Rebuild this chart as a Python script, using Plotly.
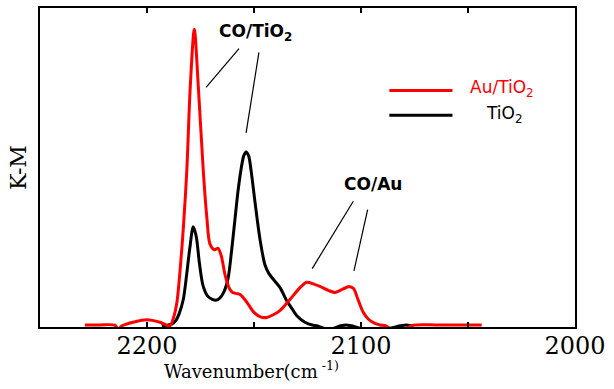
import plotly.graph_objects as go

# ---- data (wavenumber in cm^-1, K-M intensity in arbitrary units) ----
wn_au_tio2 = [2229.0, 2222.0, 2215.0, 2213.5, 2211.7, 2206.0, 2200.0, 2194.0, 2189.3,
              2187.5, 2186.0, 2184.5, 2183.0, 2181.4, 2179.8, 2177.9, 2176.0, 2173.7,
              2172.0, 2170.6, 2168.5, 2166.8, 2165.3, 2163.5, 2161.5, 2160.0, 2158.0,
              2156.5, 2154.5, 2152.5, 2150.0, 2147.0, 2144.0, 2141.0, 2137.9, 2133.0,
              2128.5, 2125.4, 2122.0, 2119.2, 2115.0, 2112.1, 2108.5, 2105.6, 2103.5,
              2101.5, 2099.1, 2096.5, 2093.5, 2091.1, 2088.3, 2086.0, 2080.0, 2075.6,
              2065.0, 2055.0, 2043.6]
km_au_tio2 = [0.003, 0.003, 0.002, -0.012, 0.0, 0.013, 0.02, 0.012, 0.0,
              0.03, 0.08, 0.19, 0.33, 0.52, 0.80, 0.995, 0.80, 0.52,
              0.36, 0.275, 0.255, 0.26, 0.235, 0.17, 0.125, 0.112, 0.108,
              0.105, 0.09, 0.07, 0.045, 0.03, 0.028, 0.037, 0.051, 0.09,
              0.128, 0.146, 0.14, 0.132, 0.118, 0.112, 0.123, 0.132, 0.125,
              0.09, 0.047, 0.022, 0.008, 0.003, 0.0, -0.012, -0.012, 0.002,
              0.003, 0.003, 0.003]

wn_tio2 = [2193.1, 2190.0, 2188.3, 2186.5, 2185.0, 2183.0, 2181.5, 2180.0, 2178.4,
           2177.0, 2175.5, 2173.8, 2171.5, 2169.5, 2167.8, 2166.0, 2164.0, 2162.1,
           2160.5, 2158.9, 2157.5, 2156.1, 2154.8, 2153.7, 2152.5, 2151.4, 2149.5,
           2147.2, 2144.9, 2143.0, 2141.1, 2137.9, 2134.7, 2132.0, 2130.0, 2126.2,
           2122.4, 2120.6, 2115.0, 2109.5, 2107.0, 2104.4, 2098.0, 2090.0, 2081.5,
           2079.0, 2076.4]
km_tio2 = [0.0, 0.003, 0.006, 0.018, 0.04, 0.09, 0.17, 0.26, 0.332,
           0.30, 0.21, 0.134, 0.098, 0.089, 0.086, 0.093, 0.115, 0.16,
           0.25, 0.357, 0.45, 0.523, 0.57, 0.583, 0.57, 0.523, 0.413,
           0.29, 0.205, 0.175, 0.157, 0.129, 0.084, 0.055, 0.034, 0.012,
           0.002, 0.0, -0.012, 0.0, 0.003, 0.0, -0.012, -0.012, 0.0,
           0.003, 0.0]

tick_vals = [2200, 2150, 2100, 2050, 2000]
tick_text = ["2200", "", "2100", "", "2000"]

series_names = ["Au/TiO<sub>2</sub>", "TiO<sub>2</sub>"]
series_colors = ["#ff0000", "#000000"]

fig = go.Figure()
fig.add_trace(go.Scatter(x=wn_tio2, y=km_tio2, mode="lines", name=series_names[1],
                         line=dict(color=series_colors[1], width=3, shape="spline", smoothing=0.8),
                         showlegend=False))
fig.add_trace(go.Scatter(x=wn_au_tio2, y=km_au_tio2, mode="lines", name=series_names[0],
                         line=dict(color=series_colors[0], width=3, shape="spline", smoothing=0.8),
                         showlegend=False))

serif = "DejaVu Serif"
sans = "DejaVu Sans"

fig.update_layout(
    width=614, height=389,
    margin=dict(l=40, r=39, t=6, b=62),
    paper_bgcolor="white", plot_bgcolor="white",
    xaxis=dict(range=[2250, 2000], tickvals=tick_vals, ticktext=tick_text,
               ticks="inside", ticklen=5, tickwidth=1.5, tickcolor="black",
               showline=True, linecolor="black", linewidth=1.5, mirror="ticks",
               showgrid=False, zeroline=False, ticklabelstandoff=-4,
               tickfont=dict(family=serif, size=24, color="black")),
    yaxis=dict(range=[-0.004, 1.066], showticklabels=False, ticks="",
               showline=True, linecolor="black", linewidth=1.5, mirror=True,
               showgrid=False, zeroline=False,
               title=dict(text="K-M", standoff=6,
                          font=dict(family=serif, size=22, color="black"))),
)

# x axis title (offset to the left as in the original)
fig.add_annotation(x=0.396, y=-0.134, xref="paper", yref="paper",
                   text="Wavenumber(cm<sup> -1)</sup>", showarrow=False,
                   xanchor="center", yanchor="middle",
                   font=dict(family=serif, size=18, color="black"))

# annotations (labels with leader lines)
fig.add_annotation(x=2149.5, y=0.985, xref="x", yref="y", text="<b>CO/TiO<sub>2</sub></b>",
                   showarrow=False, font=dict(family=sans, size=17, color="black"))
fig.add_annotation(x=2094.2, y=0.475, xref="x", yref="y", text="<b>CO/Au</b>",
                   showarrow=False, font=dict(family=sans, size=17, color="black"))
leaders = [((2157.0, 0.93), (2172.4, 0.80)),
           ((2147.7, 0.917), (2153.7, 0.647)),
           ((2103.6, 0.418), (2122.8, 0.192)),
           ((2096.9, 0.39), (2103.3, 0.184))]
for (x0, y0), (x1, y1) in leaders:
    fig.add_shape(type="line", xref="x", yref="y", x0=x0, y0=y0, x1=x1, y1=y1,
                  line=dict(color="black", width=1.2))

# custom legend
leg_y = [0.741, 0.664]
for name, color, yy in zip(series_names, series_colors, leg_y):
    fig.add_shape(type="line", xref="paper", yref="paper", x0=0.653, x1=0.771, y0=yy, y1=yy,
                  line=dict(color=color, width=3))
leg_text_x = [0.800, 0.830]
leg_text_y = [0.748, 0.666]
for name, color, yy, xx in zip(series_names, series_colors, leg_text_y, leg_text_x):
    fig.add_annotation(x=xx, y=yy, xref="paper", yref="paper", text=name, showarrow=False,
                       xanchor="left", yanchor="middle",
                       font=dict(family=sans, size=17, color=color))

fig.write_html("out.html", config={"displayModeBar": False},
               post_script="document.body.style.margin='0';")
